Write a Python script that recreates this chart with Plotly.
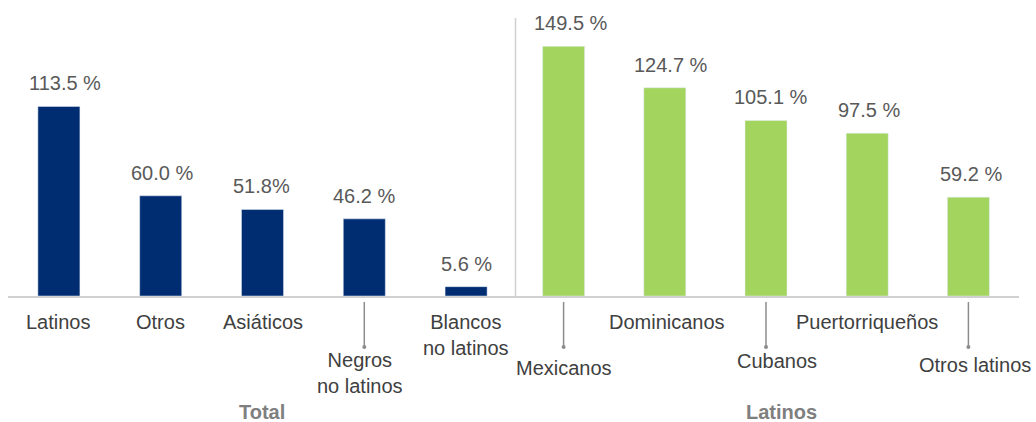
import plotly.graph_objects as go

total_cats = ["Latinos", "Otros", "Asiáticos", "Negros<br>no latinos", "Blancos<br>no latinos"]
total_vals = [113.5, 60.0, 51.8, 46.2, 5.6]
total_text = ["113.5 %", "60.0 %", "51.8%", "46.2 %", "5.6 %"]

lat_cats = ["Mexicanos", "Dominicanos", "Cubanos", "Puertorriqueños", "Otros latinos"]
lat_vals = [149.5, 124.7, 105.1, 97.5, 59.2]
lat_text = ["149.5 %", "124.7 %", "105.1 %", "97.5 %", "59.2 %"]

group_names = ["Total", "Latinos"]

# label placement (pixels): category label offsets below baseline, x nudges, leader lines
total_label_shift = [-26, -26, -26, -77, -39]
total_label_dx = [0, 0, 0, -4, 0]
total_value_dx = [6, 1, -1, 0, 0]
total_leader = [False, False, False, True, False]
lat_label_shift = [-72, -26, -65, -26, -69]
lat_label_dx = [0, 2, 11, 0, 7]
lat_value_dx = [7, 6, 5, 2, 3]
lat_leader = [True, False, True, False, True]

NAVY = "#002D72"
GREEN = "#A2D45E"
VAL_TXT = "#595959"
CAT_TXT = "#404040"
FONT = "Helvetica Neue, Helvetica, Arial, Liberation Sans, sans-serif"

W, H = 1036, 422
fig = go.Figure()
fig.add_trace(go.Bar(x=total_cats, y=total_vals, marker_color=NAVY, width=0.413,
                     xaxis="x", yaxis="y", hoverinfo="skip"))
fig.add_trace(go.Bar(x=lat_cats, y=lat_vals, marker_color=GREEN, width=0.415,
                     xaxis="x2", yaxis="y", hoverinfo="skip"))

ann = []
shapes = []
for xa, cats, vals, texts, shifts, ldx, vdx, leaders in [
    ("x", total_cats, total_vals, total_text, total_label_shift, total_label_dx, total_value_dx, total_leader),
    ("x2", lat_cats, lat_vals, lat_text, lat_label_shift, lat_label_dx, lat_value_dx, lat_leader),
]:
    for c, v, t, s, dx, vx, ld in zip(cats, vals, texts, shifts, ldx, vdx, leaders):
        ann.append(dict(x=c, y=v, xref=xa, yref="y", text=t, showarrow=False,
                        xanchor="center", yanchor="middle", yshift=23, xshift=vx,
                        font=dict(size=20, color=VAL_TXT, family=FONT)))
        ann.append(dict(x=c, y=0, xref=xa, yref="paper", text=c, showarrow=False,
                        xanchor="center", yanchor="middle", yshift=s, xshift=dx,
                        font=dict(size=20, color=CAT_TXT, family=FONT)))
        if ld:
            shapes.append(dict(type="line", xref=xa, yref="paper", x0=c, x1=c,
                               ysizemode="pixel", yanchor=0, y0=-6, y1=-51,
                               line=dict(color="#8c8c8c", width=1.5)))
            shapes.append(dict(type="circle", xref=xa, yref="paper",
                               xsizemode="pixel", xanchor=c, x0=-2, x1=2,
                               ysizemode="pixel", yanchor=0, y0=-49, y1=-53,
                               fillcolor="#8c8c8c", line=dict(width=0)))

for gx, name in zip([261.5, 781], group_names):
    ann.append(dict(x=gx / W, y=0, xref="paper", yref="paper", text="<b>" + name + "</b>",
                    showarrow=False, xanchor="center", yanchor="middle", yshift=-116,
                    font=dict(size=20, color="#7f7f7f", family=FONT)))

shapes.append(dict(type="line", xref="paper", yref="paper", x0=515.5 / W, x1=515.5 / W,
                   y0=0, y1=(296 - 18) / 296, line=dict(color="#d0d0d0", width=1.5)))

fig.update_layout(
    width=W, height=H,
    margin=dict(l=0, r=0, t=0, b=126),
    paper_bgcolor="white", plot_bgcolor="white",
    showlegend=False,
    font=dict(family=FONT, size=20, color=VAL_TXT),
    xaxis=dict(domain=[8 / W, 517 / W], range=[-0.5, 4.5], showticklabels=False,
               showgrid=False, zeroline=False,
               showline=True, linecolor="#d0d0d0", linewidth=1.5, ticks=""),
    xaxis2=dict(domain=[513 / W, 1019 / W], range=[-0.5, 4.5], showticklabels=False,
                showgrid=False, zeroline=False,
                showline=True, linecolor="#d0d0d0", linewidth=1.5, ticks="", anchor="y"),
    yaxis=dict(range=[0, 296 / 1.67], visible=False, fixedrange=True),
    annotations=ann,
    shapes=shapes,
)

fig.write_html("out.html")
